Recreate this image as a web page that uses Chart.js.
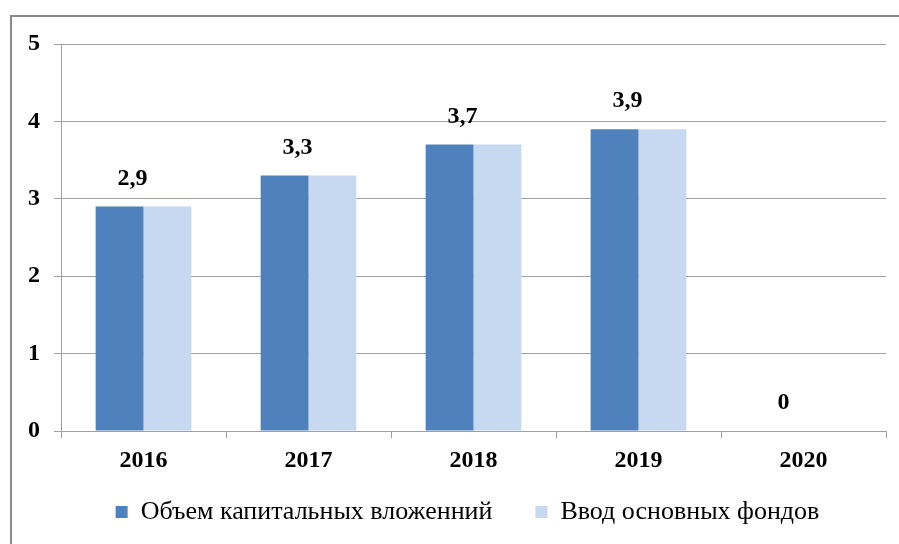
<!DOCTYPE html>
<html>
<head>
<meta charset="utf-8">
<script src="https://cdn.jsdelivr.net/npm/chart.js@4.4.1/dist/chart.umd.min.js"></script>
<style>
  html, body { margin: 0; padding: 0; background: #fff; overflow: hidden; }
  #wrap { position: relative; width: 899px; height: 544px; }
  #frame { position: absolute; left: 10px; top: 15px; width: 1000px; height: 1000px; border: 2px solid #8a8a8a; box-sizing: border-box; pointer-events: none; }
  canvas { position: absolute; left: 0; top: 0; }
</style>
</head>
<body>
<div id="wrap">
  <canvas id="c" width="899" height="544"></canvas>
  <div id="frame"></div>
</div>
<script>
const categories = ['2016', '2017', '2018', '2019', '2020'];
const seriesNames = ['Объем капитальных вложенний', 'Ввод основных фондов'];
const investmentValues = [2.9, 3.3, 3.7, 3.9, 0];
const fixedAssetsValues = [2.9, 3.3, 3.7, 3.9, 0];
const yTicks = [0, 1, 2, 3, 4, 5];

const FONT = "'Liberation Serif', 'Times New Roman', serif";

const labelPlugin = {
  id: 'valueLabels',
  afterDatasetsDraw(chart) {
    const ctx = chart.ctx;
    const meta = chart.getDatasetMeta(0);
    ctx.save();
    ctx.font = 'bold 24px ' + FONT;
    ctx.fillStyle = '#000';
    ctx.textAlign = 'left';
    ctx.textBaseline = 'alphabetic';
    investmentValues.forEach((v, i) => {
      const bar = meta.data[i];
      ctx.fillText(String(v).replace('.', ','), bar.x - 2, bar.y - 22);
    });
    ctx.restore();
  }
};

const legendPlace = {
  id: 'legendPlace',
  afterLayout(chart) {
    const lg = chart.legend;
    if (!lg) return;
    const dy = 456 - lg.top;
    lg.top += dy; lg.bottom += dy;
    lg.left = 49;
  }
};

function build() {
  new Chart(document.getElementById('c'), {
    type: 'bar',
    data: {
      labels: categories,
      datasets: [
        { label: seriesNames[0], data: investmentValues, backgroundColor: '#4F81BD', borderWidth: 0 },
        { label: seriesNames[1], data: fixedAssetsValues, backgroundColor: '#C6D9F1', borderWidth: 0 }
      ]
    },
    options: {
      responsive: false,
      animation: false,
      devicePixelRatio: 1,
      categoryPercentage: 0.58,
      barPercentage: 1.0,
      font: { family: FONT },
      layout: { padding: { top: 44, left: 16, right: 13, bottom: -8 } },
      plugins: {
        tooltip: { enabled: false },
        legend: {
          position: 'bottom',
          labels: {
            boxWidth: 12,
            boxHeight: 12,
            padding: 43,
            color: '#000',
            font: { family: FONT, size: 26 }
          }
        }
      },
      scales: {
        x: {
          afterFit: s => { s.height = 42; },
          grid: { drawOnChartArea: false, drawTicks: true, tickLength: 7, color: '#a0a0a0', offset: true },
          border: { color: '#a0a0a0' },
          ticks: { color: '#000', padding: 8, font: { family: FONT, size: 24, weight: 'bold' } }
        },
        y: {
          min: 0, max: 5,
          afterFit: s => { s.width = 45; },
          afterBuildTicks: s => { s.ticks = yTicks.map(v => ({ value: v })); },
          grid: { color: '#a0a0a0', tickLength: 7, drawTicks: true },
          border: { color: '#a0a0a0' },
          ticks: { color: '#000', padding: 14, font: { family: FONT, size: 24, weight: 'bold' } }
        }
      }
    },
    plugins: [labelPlugin, legendPlace]
  });
}
if (document.fonts && document.fonts.load) {
  Promise.all([
    document.fonts.load("24px 'Liberation Serif'"),
    document.fonts.load("bold 24px 'Liberation Serif'")
  ]).then(build, build);
} else {
  build();
}
</script>
</body>
</html>
